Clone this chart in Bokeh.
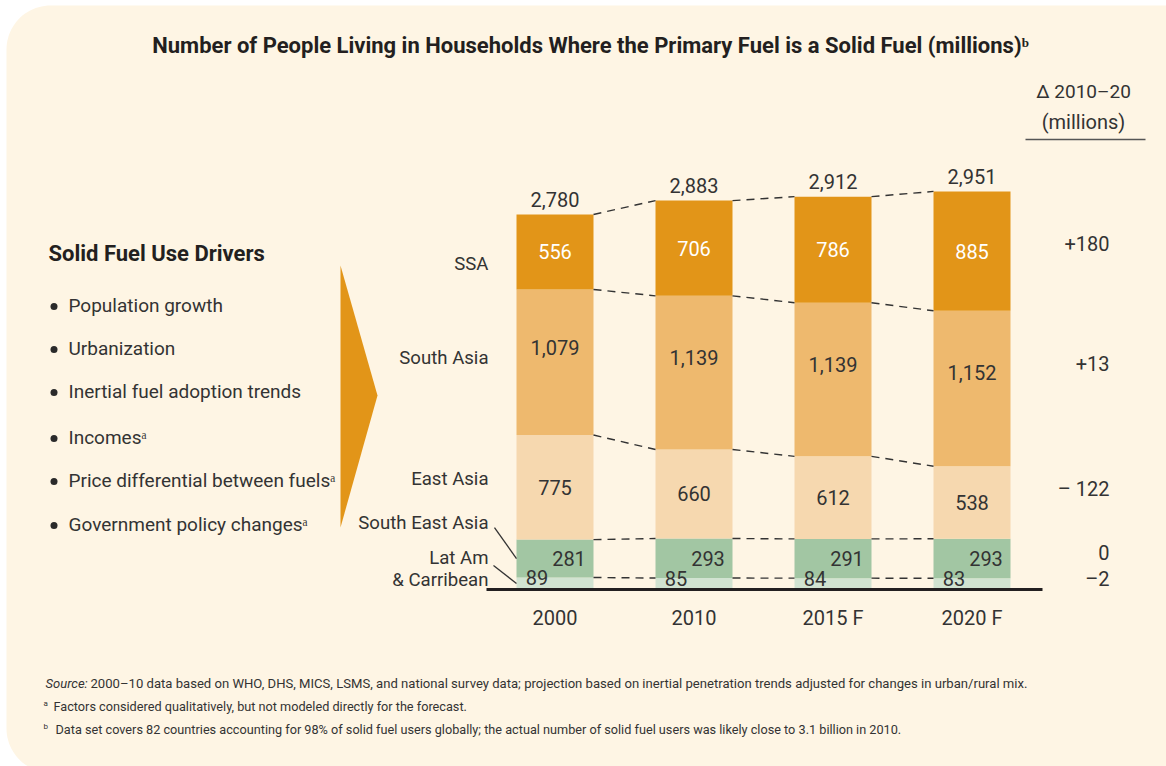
import numpy as np
from bokeh.plotting import figure
from bokeh.models import Range1d, ColumnDataSource
from bokeh.core.properties import value
from bokeh.embed import file_html
from bokeh.resources import INLINE

# ---------------- data ----------------
years = ["2000", "2010", "2015 F", "2020 F"]
lat_am = [89, 85, 84, 83]
se_asia = [281, 293, 291, 293]
east_asia = [775, 660, 612, 538]
south_asia = [1079, 1139, 1139, 1152]
ssa = [556, 706, 786, 885]
totals = [2780, 2883, 2912, 2951]
delta_labels = ["+180", "+13", "\u2013 122", "0", "\u20132"]
drivers = ["Population growth", "Urbanization", "Inertial fuel adoption trends",
           "Incomes\u1d43", "Price differential between fuels\u1d43",
           "Government policy changes\u1d43"]

FONT = "Roboto"
TXT = "#333333"
COLORS = ["#D1E3D1", "#A2C6A3", "#F6D8AF", "#EEB96E", "#E29518"]
CREAM = "#FEF5E4"

# ---------------- geometry ----------------
W, H = 1166, 766
SX = 139.0        # px per category step
SY = 0.1349       # px per million
BASE_PX = 589     # page y of baseline
C0_PX = 554.5     # page x of first bar centre
X0 = -C0_PX / SX
X1 = X0 + W / SX
Y1 = BASE_PX / SY
Y0 = Y1 - H / SY
BW = 0.554


def dx(px):
    return X0 + px / SX


def dy(py):
    return Y1 - py / SY


p = figure(width=W, height=H, x_range=Range1d(X0, X1), y_range=Range1d(Y0, Y1),
           output_backend="svg", toolbar_location=None, min_border=0)
p.axis.visible = False
p.grid.visible = False
p.outline_line_color = None
p.background_fill_color = "white"
p.border_fill_color = "white"

# background rounded panel
R = 44
pts = []
L, T, Rr, B = 6, 5, 1250, 800
for a in np.linspace(np.pi, 1.5 * np.pi, 24):
    pts.append((L + R + R * np.cos(a), T + R + R * np.sin(a)))
pts.append((Rr, T))
pts.append((Rr, B))
for a in np.linspace(0.5 * np.pi, np.pi, 24):
    pts.append((L + R + R * np.cos(a), 772 - R + R * np.sin(a)))
p.patch([dx(x) for x, _ in pts], [dy(y) for _, y in pts], fill_color=CREAM, line_color=None)

# ---------------- bars ----------------
xs = np.arange(len(years), dtype=float)
series = [lat_am, se_asia, east_asia, south_asia, ssa]
names = ["lat_am", "se_asia", "east_asia", "south_asia", "ssa"]
src = ColumnDataSource(dict(x=xs, **{n: s for n, s in zip(names, series)}))
p.vbar_stack(names, x="x", width=BW, color=COLORS, line_color=None, source=src)

arr = np.array(series, dtype=float)
cum = np.cumsum(arr, axis=0)
bottoms = cum - arr

# dashed connectors
sx0, sx1, sy0, sy1 = [], [], [], []
for i in range(len(years) - 1):
    for lev in range(len(series)):
        sx0.append(xs[i] + BW / 2)
        sx1.append(xs[i + 1] - BW / 2)
        sy0.append(cum[lev, i])
        sy1.append(cum[lev, i + 1])
p.segment(sx0, sy0, sx1, sy1, line_color="#333333", line_width=1.4, line_dash="8 6")

# baseline
p.segment([xs[0] - BW / 2 - 30 / SX], [0], [xs[-1] + BW / 2 + 32 / SX], [0],
          line_color="#231F20", line_width=3)

NUM = "20px"
# value labels
fracs = [1.0, 0.5, 0.5, 0.6, 0.5]
xoffs = [-18, 14, 0, 0, 0]
lcols = [TXT, TXT, TXT, TXT, "white"]
for k in range(len(series)):
    ys = bottoms[k] + arr[k] * fracs[k]
    labels = [f"{int(v):,}" for v in arr[k]]
    p.text(xs, ys, text=labels, x_offset=xoffs[k], text_align="center", text_baseline="middle",
           text_font=value(FONT), text_font_size=NUM, text_color=lcols[k])

# totals
p.text(xs, cum[-1] + 15 / SY, text=[f"{t:,}" for t in totals], text_align="center",
       text_baseline="middle", text_font=value(FONT), text_font_size=NUM, text_color=TXT)

# x tick labels
p.text(xs, [dy(617)] * len(xs), text=years, text_align="center", text_baseline="middle",
       text_font=value(FONT), text_font_size=NUM, text_color=TXT)

# category labels
cat_text = ["SSA", "South Asia", "East Asia", "South East Asia", "Lat Am", "& Carribean"]
cat_y = [263, 357, 478, 522, 557, 579]
p.text([dx(488)] * len(cat_text), [dy(v) for v in cat_y], text=cat_text, text_align="right",
       text_baseline="middle", text_font=value(FONT), text_font_size="18.6px", text_color=TXT)

# leader lines
lx_bar = xs[0] - BW / 2
p.segment([lx_bar - 22 / SX, lx_bar - 23 / SX],
          [bottoms[1, 0] + arr[1, 0] / 2 + 31 / SY, bottoms[0, 0] + arr[0, 0] / 2 + 18 / SY],
          [lx_bar, lx_bar],
          [bottoms[1, 0] + arr[1, 0] / 2, bottoms[0, 0] + arr[0, 0] / 2],
          line_color="#333333", line_width=1.3)

# delta column
p.text([dx(1083)], [dy(91)], text=["\u0394 2010\u201320"], text_align="center", text_baseline="middle",
       text_font=value(FONT), text_font_size="19px", text_color=TXT)
p.text([dx(1083)], [dy(121)], text=["(millions)"], text_align="center", text_baseline="middle",
       text_font=value(FONT), text_font_size=NUM, text_color=TXT)
p.segment([dx(1025)], [dy(139)], [dx(1145)], [dy(139)], line_color="#555555", line_width=1.3)
delta_y = [243, 363, 488, 552, 578]
p.text([dx(1109)] * 5, [dy(v) for v in delta_y], text=delta_labels, text_align="right",
       text_baseline="middle", text_font=value(FONT), text_font_size=NUM, text_color=TXT)

# title
p.text([dx(590)], [dy(45)], text=["Number of People Living in Households Where the Primary Fuel is a Solid Fuel (millions)\u1d47"],
       text_align="center", text_baseline="middle", text_font=value(FONT), text_font_size="22px",
       text_font_style="bold", text_color="#231F20")

# left panel
p.text([dx(48)], [dy(253)], text=["Solid Fuel Use Drivers"], text_align="left", text_baseline="middle",
       text_font=value(FONT), text_font_size="22px", text_font_style="bold", text_color="#231F20")
drv_y = [305, 348, 391, 437, 480, 524]
p.scatter([dx(53.5)] * len(drivers), [dy(v + 1) for v in drv_y], marker="circle", size=7,
          fill_color="#2a2a2a", line_color=None)
p.text([dx(68)] * len(drivers), [dy(v) for v in drv_y], text=drivers, text_align="left",
       text_baseline="middle", text_font=value(FONT), text_font_size="19px", text_color=TXT)

# arrow
ax = [340, 377, 340]
ay = [265, 395, 527]
p.patch([dx(v) for v in ax], [dy(v) for v in ay], fill_color="#E29518", line_color=None)

# footnotes
p.text([dx(45)], [dy(683)], text=["Source:"], text_align="left", text_baseline="middle",
       text_font=value(FONT), text_font_size="13px", text_font_style="italic", text_color=TXT)
p.text([dx(90)], [dy(683)], text=["2000\u201310 data based on WHO, DHS, MICS, LSMS, and national survey data; projection based on inertial penetration trends adjusted for changes in urban/rural mix."],
       text_align="left", text_baseline="middle", text_font=value(FONT), text_font_size="13.1px", text_color=TXT)
p.text([dx(43), dx(43)], [dy(703), dy(726)], text=["a", "b"], text_align="left", text_baseline="middle",
       text_font=value(FONT), text_font_size="8px", text_color=TXT)
p.text([dx(53), dx(55)], [dy(706), dy(729)],
       text=["Factors considered qualitatively, but not modeled directly for the forecast.",
             "Data set covers 82 countries accounting for 98% of solid fuel users globally; the actual number of solid fuel users was likely close to 3.1 billion in 2010."],
       text_align="left", text_baseline="middle", text_font=value(FONT), text_font_size="12.7px", text_color=TXT)

open("out.html", "w").write(file_html(p, INLINE))
